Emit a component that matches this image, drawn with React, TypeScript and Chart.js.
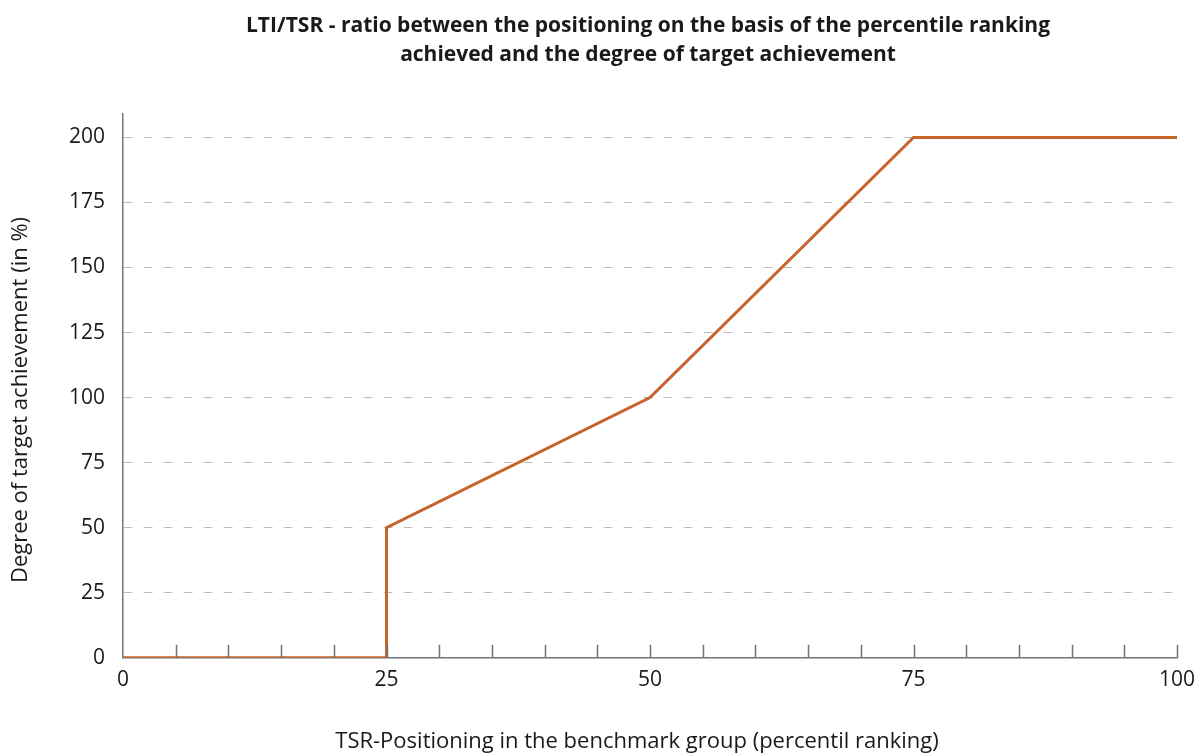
import React, { useEffect, useRef } from "react";
import { Chart, registerables } from "chart.js";

Chart.register(...registerables);

const xValues = [0, 25, 25, 50, 75, 100];
const yValues = [0, 0, 50, 100, 200, 200];
const yTickValues = [0, 25, 50, 75, 100, 125, 150, 175, 200];
const xTickValues = [0, 25, 50, 75, 100];
const minorXTicks = [5, 10, 15, 20, 25, 30, 35, 40, 45, 50, 55, 60, 65, 70, 75, 80, 85, 90, 95, 100];
const titleLines = [
  "LTI/TSR - ratio between the positioning on the basis of the percentile ranking",
  "achieved and the degree of target achievement",
];
const xTitle = "TSR-Positioning in the benchmark group (percentil ranking)";
const yTitle = "Degree of target achievement (in %)";

const FONT = "'Open Sans', sans-serif";

const minorTickPlugin = {
  id: "minorTicks",
  afterDatasetsDraw(chart: any) {
    const { ctx, scales } = chart;
    const x = scales.x;
    const y = scales.y;
    ctx.save();
    ctx.strokeStyle = "#6b777c";
    ctx.lineWidth = 1.5;
    const base = y.getPixelForValue(0);
    minorXTicks.forEach((v) => {
      const px = Math.round(x.getPixelForValue(v)) + 0.5;
      ctx.beginPath();
      ctx.moveTo(px, base);
      ctx.lineTo(px, base - 13);
      ctx.stroke();
    });
    ctx.restore();
  },
};

const textPlugin = {
  id: "texts",
  afterDraw(chart: any) {
    const { ctx, chartArea } = chart;
    const cx = (chartArea.left + chartArea.right) / 2 - 2;
    ctx.save();
    ctx.fillStyle = "#1a1a1a";
    ctx.textAlign = "center";
    ctx.textBaseline = "middle";
    ctx.font = `bold 21px ${FONT}`;
    titleLines.forEach((line, i) => {
      ctx.fillText(line, cx, 26 + i * 29);
    });
    ctx.font = `22px ${FONT}`;
    ctx.fillText(xTitle, cx - 11, 742);
    ctx.translate(21, 400);
    ctx.rotate(-Math.PI / 2);
    ctx.fillText(yTitle, 0, 0);
    ctx.restore();
  },
};

export default function App() {
  const ref = useRef<HTMLCanvasElement>(null);
  useEffect(() => {
    document.body.style.margin = "0";
    const chart = new Chart(ref.current!, {
      type: "line",
      data: {
        datasets: [
          {
            data: xValues.map((x, i) => ({ x, y: yValues[i] })),
            borderColor: "#c8632b",
            borderWidth: 3,
            pointRadius: 0,
            fill: false,
            tension: 0,
          },
        ],
      },
      plugins: [minorTickPlugin, textPlugin],
      options: {
        animation: false,
        responsive: false,
        layout: { padding: { top: 114, right: 20, left: 51, bottom: 50 } },
        plugins: {
          legend: { display: false },
          tooltip: { enabled: false },
          title: { display: false },
        },
        scales: {
          x: {
            type: "linear",
            min: 0,
            max: 100,
            afterBuildTicks: (s: any) => {
              s.ticks = xTickValues.map((v) => ({ value: v }));
            },
            afterFit: (s: any) => {
              s.paddingLeft = 0;
              s.paddingRight = 0;
            },
            ticks: {
              color: "#1a1a1a",
              font: { family: FONT, size: 21 },
              padding: 10,
              maxRotation: 0,
            },
            grid: { display: false, drawTicks: false },
            border: { display: true, color: "#6b777c", width: 1.5 },
          },
          y: {
            min: 0,
            max: 209,
            afterBuildTicks: (s: any) => {
              s.ticks = yTickValues.map((v) => ({ value: v }));
            },
            ticks: {
              color: "#1a1a1a",
              font: { family: FONT, size: 21 },
              padding: 18,
            },
            grid: {
              drawTicks: false,
              color: (c: any) => (c.tick && c.tick.value === 0 ? "rgba(0,0,0,0)" : "#bdbdbd"),
              lineWidth: 1,
            },
            border: { display: true, color: "#6b777c", width: 1.5, dash: [9, 11] },
          },
        },
      } as any,
    });
    return () => chart.destroy();
  }, []);
  return (
    <div style={{ width: 1197, height: 753 }}>
      <canvas ref={ref} width={1197} height={753} style={{ width: 1197, height: 753 }} />
    </div>
  );
}
